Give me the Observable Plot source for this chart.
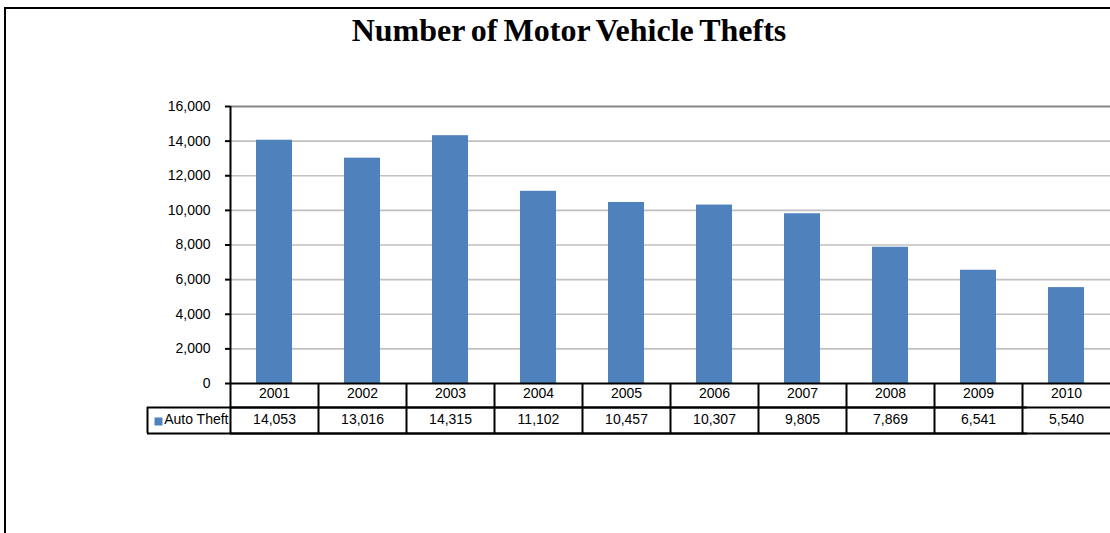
<!DOCTYPE html>
<html>
<head>
<meta charset="utf-8">
<script src="https://cdn.jsdelivr.net/npm/d3@7"></script>
<script src="https://cdn.jsdelivr.net/npm/@observablehq/plot@0.6"></script>
<style>
  html, body { margin: 0; padding: 0; background: #fff; overflow: hidden; }
  #wrap { position: relative; width: 1110px; height: 533px; overflow: hidden; }
  #border { position: absolute; left: 4px; top: 7px; width: 1300px; height: 700px; border: 2px solid #000; box-sizing: border-box; pointer-events: none; }
  #title { position: absolute; left: 0; top: 12px; width: 1138px; text-align: center;
           font-family: "Liberation Serif", "DejaVu Serif", serif; font-weight: bold; font-size: 32px;
           word-spacing: -2px; color: #000; }
  #chart { position: absolute; left: 0; top: 0; }
</style>
</head>
<body>
<div id="wrap">
  <div id="border"></div>
  <div id="chart"></div>
  <div id="title">Number of Motor Vehicle Thefts</div>
</div>
<script>
const years = ["2001","2002","2003","2004","2005","2006","2007","2008","2009","2010"];
const autoTheft = [14053, 13016, 14315, 11102, 10457, 10307, 9805, 7869, 6541, 5540];
const yTicks = [0, 2000, 4000, 6000, 8000, 10000, 12000, 14000, 16000];
const seriesName = "Auto Theft";

const data = years.map((y, i) => ({year: y, value: autoTheft[i]}));
const fmt = d3.format(",");
const blue = "#4f81bd";
// pixel offsets below the x axis converted to y data units (table rows)
const perPx = 16000 / 277;
const rowY = px => -px * perPx;

const chart = Plot.plot({
  width: 1110,
  height: 533,
  marginLeft: 230,
  marginRight: 0,
  marginTop: 106,
  marginBottom: 150,
  style: {fontFamily: "'Liberation Sans', Arial, sans-serif", fontSize: "14px", color: "#000", background: "transparent", overflow: "visible"},
  x: {domain: years, paddingInner: 0.59, paddingOuter: 0.295, axis: null},
  y: {domain: [0, 16000], axis: null},
  marks: [
    Plot.ruleY(yTicks.filter(t => t > 0 && t < 16000), {stroke: "#c0c0c0", strokeWidth: 1.6}),
    Plot.ruleY([16000], {stroke: "#868686", strokeWidth: 2}),
    Plot.barY(data, {x: "year", y: "value", fill: blue}),
    Plot.axisY({ticks: yTicks, label: null, tickSize: 5, tickPadding: 15, tickFormat: fmt, stroke: "#000", strokeWidth: 2, fill: "#000", fontSize: 14}),
    // y axis line
    Plot.ruleX([years[0]], {dx: -44, y1: 0, y2: 16000, stroke: "#000", strokeWidth: 2}),
    // table horizontal lines
    Plot.ruleY([0], {stroke: "#000", strokeWidth: 2}),
    Plot.ruleY([0], {dy: 24, stroke: "#000", strokeWidth: 2}),
    Plot.ruleY([0], {dy: 24, dx: -83, stroke: "#000", strokeWidth: 2}),
    Plot.ruleY([0], {dy: 50, stroke: "#000", strokeWidth: 2}),
    Plot.ruleY([0], {dy: 50, dx: -83, stroke: "#000", strokeWidth: 2}),
    // table vertical lines
    Plot.ruleX(years, {x: d => d, dx: -44, y1: 0, y2: rowY(50), stroke: "#000", strokeWidth: 2}),
    Plot.ruleX([years[0]], {dx: -44 - 83, y1: rowY(24), y2: rowY(50), stroke: "#000", strokeWidth: 2}),
    // table text
    Plot.text(years, {x: d => d, frameAnchor: "bottom", dy: 14, fill: "#000", fontSize: 14}),
    Plot.text(data, {x: "year", text: d => fmt(d.value), frameAnchor: "bottom", dy: 40, fill: "#000", fontSize: 14}),
    Plot.text([seriesName], {x: () => years[0], text: d => d, dx: -46, textAnchor: "end", frameAnchor: "bottom", dy: 40, fill: "#000", fontSize: 14}),
    Plot.dot([seriesName], {x: () => years[0], dx: -116, frameAnchor: "bottom", dy: 38, symbol: "square", r: 4.5, fill: blue, stroke: null})
  ]
});
document.getElementById("chart").appendChild(chart);
</script>
</body>
</html>
